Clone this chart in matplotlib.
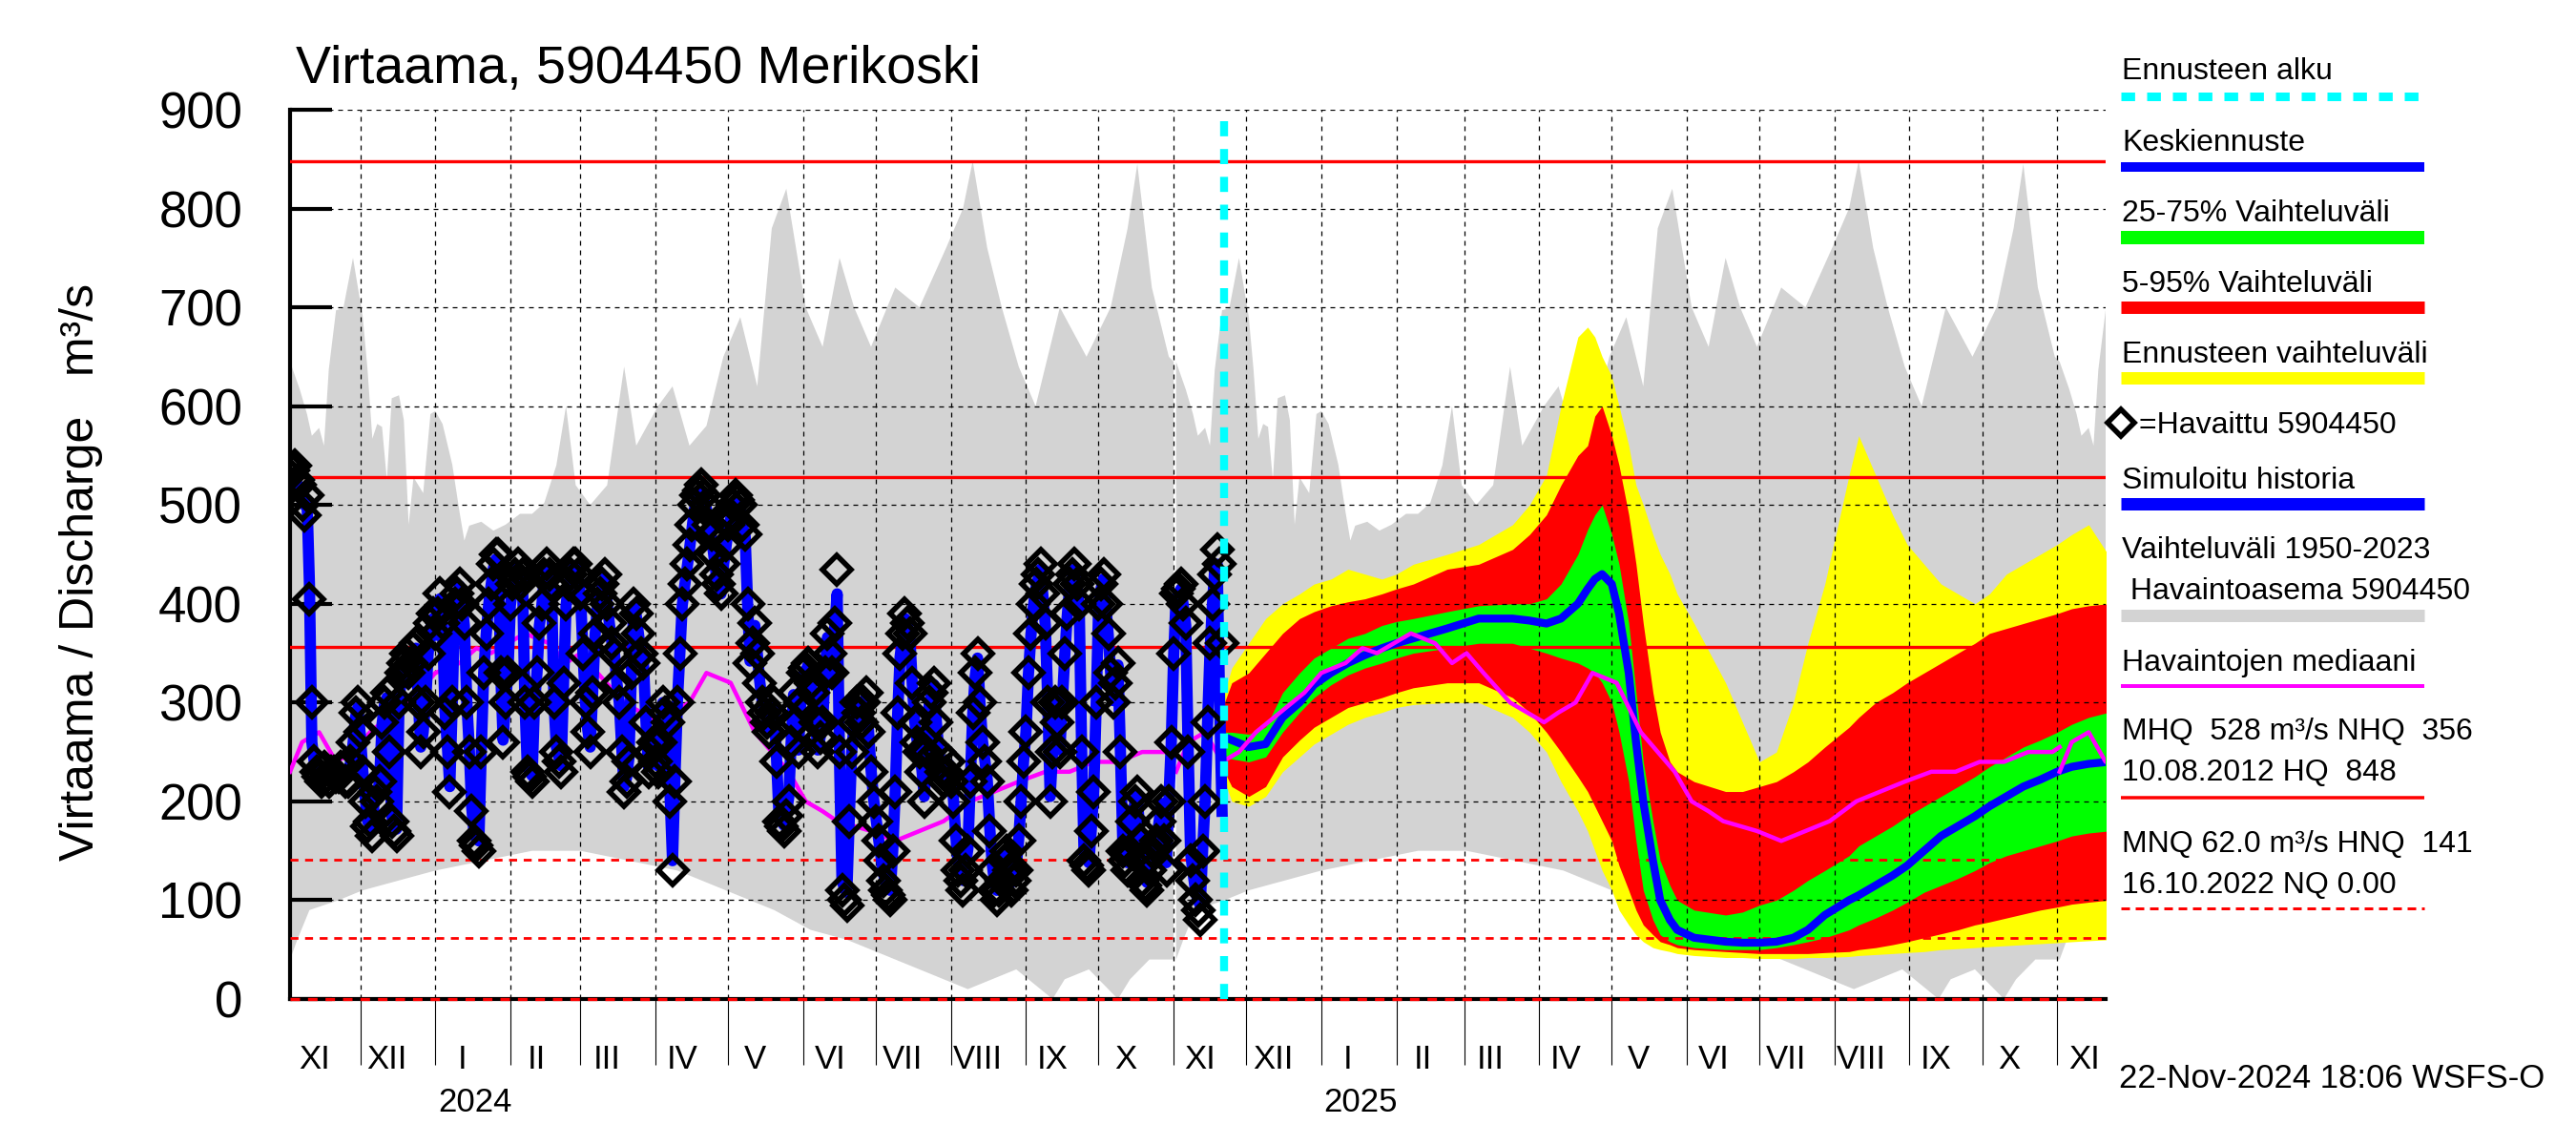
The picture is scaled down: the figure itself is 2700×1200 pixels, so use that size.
import numpy as np
import matplotlib
matplotlib.use("Agg")
import matplotlib.pyplot as plt
import matplotlib.dates as mdates

plt.rcParams['font.family'] = ['Liberation Sans', 'DejaVu Sans']

# ---------------- data ----------------
x_start = '2023-11-02'
x_end = '2025-11-21'
forecast_start = '2024-11-22'

# observed daily discharge from obs_start
obs_start = '2023-11-02'
obs_values = [
    530, 535, 540, 525, 520, 500, 490, 510, 405, 300,
    240, 230, 225, 220, 235, 225, 220, 230, 230, 225,
    225, 235, 235, 220, 220, 240, 260, 290, 300, 270,
    230, 200, 175, 180, 165, 210, 200, 220, 280, 300,
    310, 250, 180, 170, 165, 300, 330, 340, 350, 330,
    340, 355, 360, 300, 250, 270, 300, 350, 380, 390,
    370, 390, 410, 380, 290, 250, 210, 300, 400, 410,
    420, 400, 380, 300, 250, 190, 160, 155, 150, 250,
    330, 370, 400, 420, 440, 450, 450, 330, 260, 300,
    330, 400, 420, 430, 440, 420, 430, 300, 230, 225,
    220, 300, 330, 380, 400, 430, 440, 430, 420, 300,
    250, 240, 230, 320, 400, 420, 430, 440, 440, 430,
    410, 350, 300, 270, 250, 310, 370, 400, 410, 420,
    430, 400, 380, 360, 350, 320, 300, 250, 210, 220,
    240, 330, 400, 390, 370, 350, 340, 280, 230, 250,
    260, 240, 230, 260, 300, 290, 280, 200, 130, 220,
    300, 350, 400, 420, 440, 460, 480, 500, 510, 515,
    520, 510, 500, 480, 470, 450, 430, 420, 410, 440,
    460, 480, 490, 500, 510, 505, 500, 480, 470, 400,
    340, 360, 380, 350, 320, 300, 290, 280, 270, 290,
    300, 240, 180, 175, 170, 185, 200, 260, 310, 280,
    250, 300, 330, 335, 340, 320, 310, 280, 250, 265,
    280, 330, 370, 350, 330, 380, 435, 250, 110, 100,
    95, 180, 250, 280, 300, 290, 280, 300, 310, 270,
    230, 200, 180, 160, 140, 120, 110, 105, 100, 150,
    210, 290, 350, 370, 390, 380, 370, 320, 280, 260,
    250, 230, 200, 250, 300, 310, 320, 280, 250, 230,
    220, 230, 240, 220, 200, 160, 130, 120, 110, 130,
    150, 220, 290, 330, 350, 300, 260, 240, 220, 170,
    130, 110, 100, 110, 120, 140, 150, 130, 110, 120,
    130, 160, 200, 240, 270, 330, 370, 400, 420, 430,
    440, 410, 380, 300, 200, 250, 300, 280, 250, 300,
    350, 390, 420, 430, 440, 420, 400, 250, 140, 135,
    130, 170, 210, 300, 400, 420, 430, 400, 370, 330,
    300, 320, 340, 250, 150, 140, 130, 150, 180, 200,
    210, 160, 120, 115, 110, 130, 150, 155, 160, 180,
    200, 160, 130, 200, 260, 350, 410, 415, 420, 400,
    380, 250, 140, 120, 100, 90, 80, 150, 200, 280,
    360, 400, 430, 455, 440, 360]
sim_values = [
    520, 525, 530, 520, 515, 505, 500, 505, 420, 260,
    240, 232, 228, 225, 232, 228, 224, 230, 230, 228,
    228, 232, 232, 225, 225, 240, 258, 285, 295, 268,
    232, 205, 180, 182, 172, 210, 205, 222, 278, 298,
    305, 250, 185, 175, 172, 298, 328, 338, 345, 330,
    338, 352, 355, 300, 255, 270, 300, 348, 375, 385,
    368, 388, 405, 378, 292, 255, 215, 300, 398, 408,
    418, 400, 378, 302, 255, 195, 168, 162, 160, 252,
    330, 368, 398, 418, 436, 445, 445, 332, 262, 300,
    330, 398, 418, 428, 436, 418, 426, 302, 235, 230,
    226, 300, 330, 378, 398, 426, 436, 428, 418, 302,
    255, 245, 236, 320, 398, 418, 428, 436, 436, 428,
    408, 350, 302, 272, 255, 310, 368, 398, 408, 418,
    426, 400, 378, 360, 350, 320, 300, 255, 215, 224,
    244, 330, 398, 388, 368, 350, 340, 282, 235, 252,
    260, 244, 236, 262, 300, 290, 280, 205, 140, 225,
    300, 348, 398, 418, 436, 455, 475, 495, 505, 510,
    512, 505, 496, 478, 468, 450, 430, 420, 410, 438,
    456, 476, 486, 496, 505, 500, 496, 478, 468, 400,
    342, 360, 378, 350, 322, 302, 292, 282, 272, 290,
    298, 242, 185, 180, 176, 188, 204, 260, 308, 280,
    252, 300, 328, 332, 338, 320, 310, 282, 252, 265,
    280, 328, 366, 350, 330, 376, 410, 240, 120, 112,
    108, 182, 250, 278, 298, 290, 280, 298, 306, 270,
    232, 204, 184, 164, 146, 128, 118, 112, 110, 152,
    210, 288, 346, 366, 385, 378, 368, 320, 282, 262,
    252, 232, 205, 250, 298, 308, 318, 280, 252, 232,
    222, 230, 238, 222, 204, 165, 138, 128, 120, 135,
    152, 220, 288, 326, 345, 300, 262, 242, 222, 175,
    138, 118, 110, 118, 126, 142, 150, 135, 118, 125,
    135, 162, 200, 240, 270, 328, 366, 396, 415, 425,
    435, 408, 378, 302, 205, 250, 298, 280, 252, 298,
    346, 386, 415, 425, 435, 418, 398, 252, 148, 142,
    138, 172, 210, 298, 396, 415, 425, 398, 368, 330,
    302, 320, 338, 252, 158, 148, 138, 152, 180, 200,
    208, 165, 128, 122, 118, 134, 150, 155, 160, 180,
    198, 165, 138, 200, 258, 346, 405, 410, 415, 398,
    378, 252, 148, 128, 110, 100, 95, 152, 200, 278,
    350, 398, 436, 440, 300, 190]

# climatology 1950-2023 (days since 2 Nov)
clim_years = ['2023-11-02', '2024-11-02', '2025-11-02']
clim_max_day = [0, 4, 7, 9, 12, 14, 16, 19, 22, 26, 30, 32, 34, 36, 38, 40, 42, 45, 47, 49, 51,
                55, 58, 60, 63, 67, 70, 72, 74, 79, 84, 89, 95, 100, 105, 110, 114, 118, 124,
                131, 138, 143, 152, 158, 165, 172, 179, 186, 193, 199, 205, 213, 220, 227, 233,
                240, 250, 260, 271, 278, 282, 288, 294, 301, 308, 318, 329, 339, 346, 350, 356,
                363, 365]
clim_max = [645, 617, 592, 570, 578, 560, 637, 697, 699, 750, 691, 637, 567, 582, 579, 525, 608,
            611, 586, 480, 528, 512, 592, 595, 582, 541, 493, 464, 479, 483, 474, 480, 491, 491,
            502, 540, 600, 520, 500, 520, 640, 560, 600, 620, 560, 580, 650, 690, 620, 780, 820,
            700, 660, 750, 700, 660, 720, 700, 760, 800, 848, 760, 700, 640, 600, 700, 650, 700,
            780, 845, 720, 650, 645]
clim_min_day = [0, 3, 8, 20, 30, 45, 60, 80, 100, 120, 140, 160, 180, 200, 215, 230, 245, 260,
                270, 280, 290, 300, 310, 315, 320, 330, 338, 342, 347, 355, 365]
clim_min = [40, 60, 90, 100, 110, 120, 130, 140, 150, 150, 140, 130, 110, 90, 70, 60, 45, 30,
            20, 10, 20, 30, 10, 0, 20, 30, 10, 0, 20, 40, 40]
clim_med_day = [0, 5, 12, 19, 26, 33, 43, 53, 60, 70, 77, 83, 90, 97, 107, 114, 120, 127, 138,
                145, 152, 158, 165, 172, 182, 192, 199, 206, 213, 220, 226, 233, 240, 250, 260,
                270, 281, 291, 301, 312, 322, 332, 342, 352, 362, 365]
clim_med = [230, 260, 270, 240, 250, 270, 290, 310, 330, 340, 355, 350, 360, 370, 360, 340, 350,
            330, 300, 290, 280, 290, 300, 330, 320, 270, 250, 230, 200, 190, 180, 175, 170, 160,
            170, 180, 200, 210, 220, 230, 230, 240, 240, 250, 250, 255]

# forecast (days since forecast start)
fc_day = [0, 3, 10, 17, 24, 31, 37, 44, 51, 58, 65, 71, 78, 92, 105, 119, 126, 133, 139, 146,
          150, 153, 156, 160, 163, 167, 170, 173, 177, 180, 184, 187, 194, 207, 214, 221, 228,
          235, 241, 248, 258, 262, 269, 276, 282, 289, 296, 303, 310, 316, 323, 330, 337, 344,
          350, 357, 365]
fc_median = [265, 262, 255, 258, 285, 300, 318, 330, 340, 348, 355, 360, 365, 375, 385, 385, 383,
             380, 385, 400, 415, 425, 430, 420, 390, 330, 260, 200, 140, 100, 80, 70, 62, 58, 57,
             57, 58, 62, 70, 85, 100, 105, 115, 125, 135, 150, 165, 175, 185, 195, 205, 215, 222,
             230, 235, 238, 240]
fc_p75 = [270, 270, 268, 275, 310, 330, 345, 355, 365, 370, 378, 382, 385, 392, 398, 400, 400,
          405, 420, 450, 475, 490, 500, 470, 440, 380, 310, 240, 180, 140, 115, 100, 90, 85, 88,
          95, 100, 110, 120, 130, 145, 155, 165, 175, 185, 195, 205, 215, 225, 235, 245, 255,
          262, 270, 278, 285, 290]
fc_p25 = [245, 243, 240, 245, 270, 290, 305, 318, 328, 335, 340, 345, 350, 355, 360, 360, 355,
          350, 345, 340, 335, 330, 320, 300, 270, 220, 160, 110, 80, 65, 58, 55, 52, 50, 50, 50,
          52, 55, 58, 62, 70, 75, 82, 90, 98, 108, 115, 122, 130, 138, 145, 150, 155, 160, 165,
          168, 170]
fc_p95 = [300, 320, 330, 350, 370, 385, 392, 398, 402, 405, 410, 415, 420, 435, 440, 455, 470,
          490, 520, 550, 560, 590, 600, 570, 540, 490, 440, 380, 310, 270, 240, 230, 220, 210,
          210, 215, 220, 230, 240, 255, 275, 285, 300, 310, 320, 330, 340, 350, 360, 370, 375,
          380, 385, 390, 395, 398, 400]
fc_p05 = [230, 215, 205, 215, 245, 262, 275, 285, 295, 300, 305, 310, 315, 320, 320, 305, 290,
          270, 250, 225, 210, 195, 180, 160, 135, 110, 90, 75, 65, 58, 55, 52, 50, 48, 47, 46,
          46, 46, 46, 47, 48, 50, 52, 55, 58, 62, 66, 70, 75, 78, 82, 86, 90, 93, 96, 98, 100]
fc_max = [310, 335, 360, 385, 400, 410, 420, 425, 435, 430, 425, 430, 440, 450, 460, 480, 500,
          530, 600, 670, 680, 670, 650, 630, 600, 560, 520, 500, 470, 450, 430, 410, 380, 320,
          280, 240, 250, 300, 360, 420, 530, 570, 530, 490, 460, 440, 420, 410, 400, 410, 430,
          440, 450, 460, 470, 480, 450]
fc_min = [220, 200, 195, 205, 230, 245, 258, 268, 278, 285, 290, 295, 298, 300, 300, 285, 270,
          250, 220, 190, 170, 150, 130, 110, 90, 75, 65, 58, 52, 50, 48, 46, 44, 42, 42, 41, 41,
          41, 42, 42, 43, 44, 45, 46, 47, 48, 50, 51, 52, 53, 54, 55, 56, 57, 58, 59, 60]

ref_solid = [848, 528, 356]
ref_dashed = [141, 62, 0]

y_ticks = [0, 100, 200, 300, 400, 500, 600, 700, 800, 900]
roman = ['I', 'II', 'III', 'IV', 'V', 'VI', 'VII', 'VIII', 'IX', 'X', 'XI', 'XII']

title = 'Virtaama, 5904450 Merikoski'
ylabel = 'Virtaama / Discharge   m³/s'
stamp = '22-Nov-2024 18:06 WSFS-O'

# ---------------- helpers ----------------
def days(base, offs):
    return np.datetime64(base, 'm') + (np.array(offs, dtype=float) * 1440).astype('timedelta64[m]')

# ---------------- figure ----------------
fig = plt.figure(figsize=(27, 12), dpi=100)
ax = fig.add_axes([0.1126, 0.1275, 0.7048, 0.7767])

GRAY = '#d3d3d3'

# climatology band, repeated for each year
for yb in clim_years:
    xu = days(yb, clim_max_day)
    xl = days(yb, clim_min_day)
    xs = np.concatenate([mdates.date2num(xu), mdates.date2num(xl)[::-1]])
    ys = np.concatenate([clim_max, clim_min[::-1]])
    ax.fill(xs, ys, color=GRAY, lw=0, zorder=1)

# forecast bands
fx = mdates.date2num(days(forecast_start, fc_day))
ax.fill_between(fx, fc_min, fc_max, color='#ffff00', lw=0, zorder=1.2)
ax.fill_between(fx, fc_p05, fc_p95, color='#ff0000', lw=0, zorder=1.3)
ax.fill_between(fx, fc_p25, fc_p75, color='#00ff00', lw=0, zorder=1.4)

# reference lines
for v in ref_solid:
    ax.axhline(v, color='#ff0000', lw=2.4, zorder=3)
for v in ref_dashed:
    ax.axhline(v, color='#ff0000', lw=2.0 if v else 2.4, dashes=(3, 2.5), zorder=3.1,
               clip_on=False)

# forecast median
ax.plot(fx, fc_median, color='#0000ff', lw=6, zorder=4, solid_joinstyle='round')

# median of observations
for yb in clim_years:
    ax.plot(mdates.date2num(days(yb, clim_med_day)), clim_med, color='#ff00ff', lw=3.2,
            zorder=4.5)

# simulated history and observations
ox = mdates.date2num(days(obs_start, np.arange(len(obs_values))))
ax.plot(ox, sim_values, color='#0000ff', lw=8.5, zorder=5, solid_joinstyle='round')
ax.plot(ox, obs_values, ls='none', marker='D', ms=15, mfc='none', mec='black', mew=4,
        zorder=6)

# forecast start
ax.axvline(mdates.date2num(np.datetime64(forecast_start)), color='#00ffff', lw=6,
           dashes=(1.9, 1.6), zorder=7)

# axes setup
ax.set_xlim(mdates.date2num(np.datetime64(x_start)), mdates.date2num(np.datetime64(x_end)))
ax.set_ylim(0, 900)
ax.set_yticks(y_ticks)
ax.set_yticklabels([str(v) for v in y_ticks])
ax.tick_params(axis='y', direction='in', length=32, width=3, labelsize=38, pad=36)
ax.spines['top'].set_visible(False)
ax.spines['right'].set_visible(False)
ax.spines['left'].set_linewidth(3)
ax.spines['bottom'].set_linewidth(3)

ax.xaxis.set_major_locator(mdates.MonthLocator())
ax.xaxis.set_minor_locator(mdates.YearLocator())
ax.tick_params(axis='x', which='major', direction='out', length=50, width=0.8,
               labelbottom=False)
ax.tick_params(axis='x', which='minor', direction='out', length=50, width=3,
               labelbottom=False)
ax.set_axisbelow(False)
ax.grid(axis='y', which='major', color='black', lw=0.9, dashes=(4, 4))
ax.grid(axis='x', which='major', color='black', lw=0.9, dashes=(4, 4))

# month and year labels
trans = ax.get_xaxis_transform()
m0 = np.datetime64(x_start, 'M')
m1 = np.datetime64(x_end, 'M')
m = m0
while m <= m1:
    pos = mdates.date2num(m.astype('datetime64[D]') + np.timedelta64(11, 'D'))
    idx = int(str(m)[5:7]) - 1
    ax.text(pos, -0.0783, roman[idx], transform=trans, ha='center', va='baseline', fontsize=25)
    if idx == 0:
        ax.text(mdates.date2num(m.astype('datetime64[D]') + np.timedelta64(1, 'D')), -0.1266,
                str(m)[:4], transform=trans, ha='left', va='baseline', fontsize=25)
    m = m + np.timedelta64(1, 'M')

# texts
fig.text(310 / 2700, 1 - 87 / 1200, title, fontsize=40, ha='left', va='baseline')
fig.text(85 / 2700, 1 - 600 / 1200, ylabel, fontsize=36, rotation=90, ha='center',
         va='center')
fig.text(2221 / 2700, 1 - 1140 / 1200, stamp, fontsize=25, ha='left', va='baseline')

# legend (pixel overlay)
lax = fig.add_axes([0, 0, 1, 1])
lax.set_xlim(0, 2700)
lax.set_ylim(1200, 0)
lax.axis('off')
lx0, lx1, tx = 2223, 2541, 2224
legend_text = [('Ennusteen alku', 83), ('Keskiennuste', 158), ('25-75% Vaihteluväli', 232),
               ('5-95% Vaihteluväli', 306), ('Ennusteen vaihteluväli', 380),
               ('Simuloitu historia', 512), ('Vaihteluväli 1950-2023', 585),
               (' Havaintoasema 5904450', 628), ('Havaintojen mediaani', 703),
               ('MHQ  528 m³/s NHQ  356', 775), ('10.08.2012 HQ  848', 818),
               ('MNQ 62.0 m³/s HNQ  141', 893), ('16.10.2022 NQ 0.00', 936)]
for t, yb in legend_text:
    lax.text(tx, yb, t, fontsize=23, ha='left', va='baseline')
lax.text(2242, 454, '=Havaittu 5904450', fontsize=23, ha='left', va='baseline')
lax.plot([2223], [443], marker='D', ms=14, mfc='none', mec='black', mew=4)
legend_lines = [(101, '#00ffff', 9, True), (175, '#0000ff', 10, False),
                (249, '#00ff00', 14, False), (322, '#ff0000', 13, False),
                (396, '#ffff00', 13, False), (528, '#0000ff', 13, False),
                (645, GRAY, 13, False), (719, '#ff00ff', 4, False),
                (836, '#ff0000', 3.5, False), (952, '#ff0000', 3, True)]
for yl, c, w, dashed in legend_lines:
    kw = dict(dashes=(1.6, 1.4)) if (dashed and w > 5) else (dict(dashes=(3, 2)) if dashed else {})
    lax.plot([lx0, lx1], [yl, yl], color=c, lw=w * 0.72, solid_capstyle='butt',
             dash_capstyle='butt', **kw)

fig.savefig('out.png', dpi=100)
